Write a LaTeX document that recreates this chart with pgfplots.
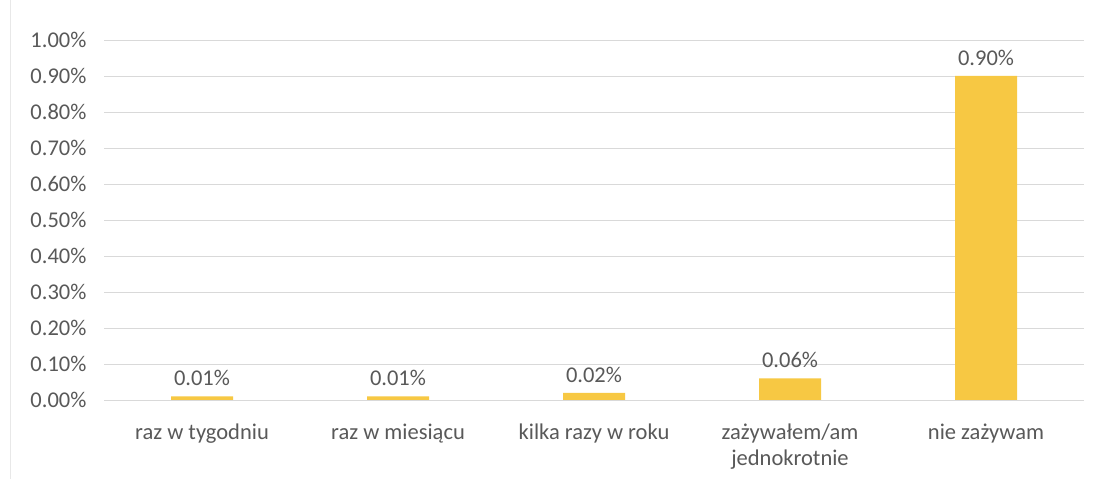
\documentclass[border=0pt]{standalone}
\usepackage{pgfplots}
\pgfplotsset{compat=1.18}
\usepackage{fontspec}
\setmainfont{Carlito}
\definecolor{barc}{HTML}{F7C843}
\definecolor{txt}{HTML}{595959}
\definecolor{gridc}{HTML}{D9D9D9}
\begin{document}
\begin{tikzpicture}
\useasboundingbox (0,0) rectangle (1101pt,479pt);
\fill[white] (0,0) rectangle (1101pt,479pt);
\draw[gridc!60, line width=0.8pt] (10pt,0) -- (10pt,479pt);
\begin{axis}[
  at={(104pt,79pt)}, anchor=south west,
  scale only axis, width=980pt, height=360pt,
  xmin=-0.5, xmax=4.5, ymin=0, ymax=1.0,
  xtick={0,1,2,3,4},
  xticklabels={raz w tygodniu, raz w miesiącu, kilka razy w roku, {zażywałem/am\\jednokrotnie}, nie zażywam},
  ytick={0,0.1,...,1.0},
  yticklabel={\pgfmathprintnumber[fixed,fixed zerofill,precision=2]{\tick}\%},
  /pgf/number format/assume math mode=true,
  axis line style={draw=none},
  tick style={draw=none},
  ymajorgrids, xmajorgrids=false, major grid style={draw=gridc, line width=0.9pt},
  tick label style={font=\fontsize{22.5}{26}\selectfont, text=txt},
  xticklabel style={align=center, yshift=-20pt},
  yticklabel style={xshift=-14pt},
  every node near coord/.append style={font=\fontsize{22.5}{26}\selectfont, text=txt, yshift=7pt},
  nodes near coords={\pgfmathprintnumber[fixed,fixed zerofill,precision=2]{\pgfplotspointmeta}\%},
]
\draw[gridc, line width=0.9pt] (axis cs:-0.5,0) -- (axis cs:4.5,0);
\addplot[ybar, bar width=62pt, fill=barc, draw=none] coordinates {(0,0.01) (1,0.01) (2,0.02) (3,0.06) (4,0.90)};
\end{axis}
\end{tikzpicture}
\end{document}
